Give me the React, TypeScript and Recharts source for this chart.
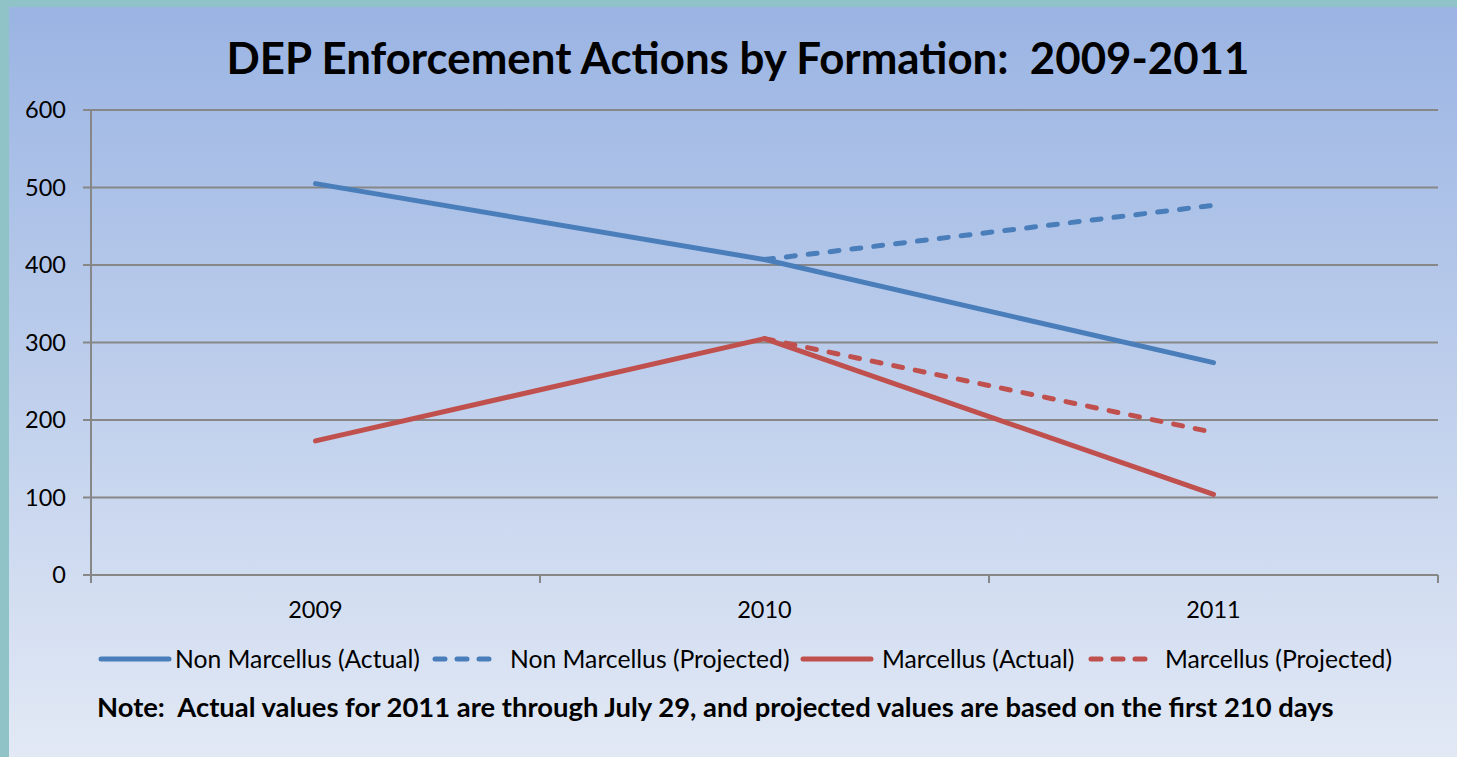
import { LineChart, Line, XAxis, YAxis, CartesianGrid } from 'recharts'

const YEARS = ['2009', '2010', '2011']
const NON_MARCELLUS_ACTUAL = [505, 407, 274]
const NON_MARCELLUS_PROJECTED = [null, 407, 477]
const MARCELLUS_ACTUAL = [173, 305, 104]
const MARCELLUS_PROJECTED = [null, 305, 184]
const Y_TICKS = [0, 100, 200, 300, 400, 500, 600]

const BLUE = '#4a7ebb'
const RED = '#c0504d'
const GRID = '#878787'
const FONT = 'Lato, "Open Sans", sans-serif'

const CHART_W = 1448
const Y_AXIS_W = 82
const RIGHT_M = 19
const BAND = (CHART_W - Y_AXIS_W - RIGHT_M) / YEARS.length

const data = YEARS.map((year, i) => ({
  year,
  nmActual: NON_MARCELLUS_ACTUAL[i],
  nmProjected: NON_MARCELLUS_PROJECTED[i],
  mActual: MARCELLUS_ACTUAL[i],
  mProjected: MARCELLUS_PROJECTED[i],
}))

// left offsets (panel coords) of each legend icon / label
const LEGEND = [
  { name: 'Non Marcellus (Actual)', color: BLUE, dashed: false, icon: 89, label: 166 },
  { name: 'Non Marcellus (Projected)', color: BLUE, dashed: true, icon: 423, label: 501 },
  { name: 'Marcellus (Actual)', color: RED, dashed: false, icon: 791, label: 873 },
  { name: 'Marcellus (Projected)', color: RED, dashed: true, icon: 1079, label: 1156 },
]

function YearTick(props: any) {
  const { x, y, payload, index } = props
  const last = index === YEARS.length - 1
  return (
    <g>
      <line x1={x - BAND / 2} x2={x - BAND / 2} y1={y} y2={y + 8} stroke={GRID} strokeWidth={2} />
      {last && <line x1={x + BAND / 2} x2={x + BAND / 2} y1={y} y2={y + 8} stroke={GRID} strokeWidth={2} />}
      <text x={x} y={y + 43} textAnchor="middle" fontSize={23.5} fill="#000" fontFamily={FONT}>
        {payload.value}
      </text>
    </g>
  )
}

export default function App() {
  return (
    <div style={{ position: 'absolute', left: 0, top: 0, width: 1457, height: 757, background: '#8fc3c8', overflow: 'hidden' }}>
      <div
        style={{
          position: 'absolute', left: 9, top: 7, width: CHART_W, height: 750,
          background: 'linear-gradient(#9ab4e3, #e2e9f5)', fontFamily: FONT,
        }}
      >
        <div style={{ position: 'absolute', left: 0, top: 26, width: 1458, textAlign: 'center', fontSize: 43.8, fontWeight: 700, lineHeight: '48px', whiteSpace: 'pre' }}>
          DEP Enforcement Actions by Formation:  2009-2011
        </div>
        <div style={{ position: 'absolute', left: 0, top: 0 }}>
          <LineChart width={CHART_W} height={618} data={data} margin={{ top: 103, right: RIGHT_M, left: 0, bottom: 0 }}>
            <CartesianGrid vertical={false} stroke={GRID} strokeWidth={2} />
            <XAxis
              dataKey="year" scale="band" height={50} tickSize={0} tickMargin={0} tickLine={false}
              axisLine={{ stroke: GRID, strokeWidth: 2 }} tick={<YearTick />} interval={0}
            />
            <YAxis
              domain={[0, 600]} ticks={Y_TICKS} width={Y_AXIS_W} tickSize={8} tickMargin={17}
              axisLine={{ stroke: GRID, strokeWidth: 2 }} tickLine={{ stroke: GRID, strokeWidth: 2 }}
              tick={{ fontSize: 23.5, fill: '#000', fontFamily: FONT }}
            />
            <Line dataKey="nmProjected" stroke={BLUE} strokeWidth={5} strokeDasharray="9 13" strokeLinecap="round" dot={false} isAnimationActive={false} connectNulls={false} />
            <Line dataKey="mProjected" stroke={RED} strokeWidth={5} strokeDasharray="9 13" strokeLinecap="round" dot={false} isAnimationActive={false} connectNulls={false} />
            <Line dataKey="nmActual" stroke={BLUE} strokeWidth={5} strokeLinecap="round" dot={false} isAnimationActive={false} />
            <Line dataKey="mActual" stroke={RED} strokeWidth={5} strokeLinecap="round" dot={false} isAnimationActive={false} />
          </LineChart>
        </div>
        {LEGEND.map((item) => (
          <div key={item.name}>
            <svg width={item.dashed ? 68 : 74} height={10} style={{ position: 'absolute', left: item.icon, top: 647 }}>
              <line
                x1={3} x2={item.dashed ? 65 : 71} y1={5} y2={5} stroke={item.color} strokeWidth={5}
                strokeLinecap="round" strokeDasharray={item.dashed ? '10 12' : undefined}
              />
            </svg>
            <span style={{ position: 'absolute', left: item.label, top: 637, lineHeight: '30px', fontSize: 24.7, whiteSpace: 'nowrap' }}>
              {item.name}
            </span>
          </div>
        ))}
        <div style={{ position: 'absolute', left: 88, top: 683, lineHeight: '34px', fontSize: 27.4, fontWeight: 700, whiteSpace: 'pre' }}>
          Note:  Actual values for 2011 are through July 29, and projected values are based on the first 210 days
        </div>
      </div>
    </div>
  )
}
